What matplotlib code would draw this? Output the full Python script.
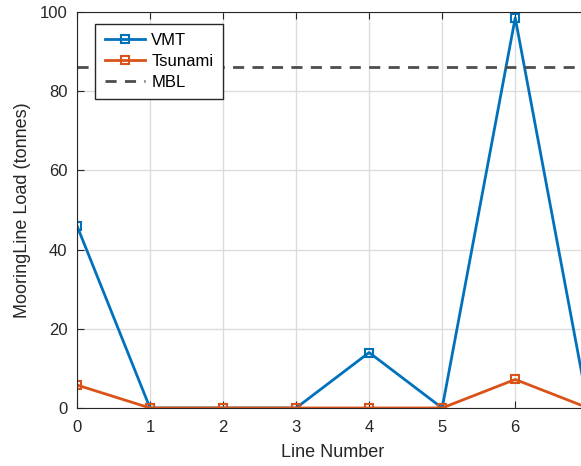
#!/usr/bin/env python3
"""
Mooring line loads per line: VMT vs Tsunami with MBL limit
"""
import matplotlib.pyplot as plt

line_number = [0, 1, 2, 3, 4, 5, 6, 7]
vmt_load = [46, 0, 0, 0, 14, 0, 98.5, 0]
tsunami_load = [5.8, 0, 0, 0, 0, 0, 7.2, 0]
mbl = 86

plt.rcParams['font.family'] = ['Liberation Sans', 'DejaVu Sans']

fig = plt.figure(figsize=(5.81, 4.66), dpi=100)
ax = fig.add_axes([0.1325, 0.1245, 0.88, 0.85])

ax.plot(line_number, vmt_load, color='#0072BD', lw=2, marker='s',
        ms=6, mfc='none', mew=1.5, label='VMT')
ax.plot(line_number, tsunami_load, color='#D95319', lw=2, marker='s',
        ms=6, mfc='none', mew=1.5, label='Tsunami')
ax.axhline(mbl, color='#4d4d4d', lw=2, ls=(0, (4, 3)), label='MBL')

ax.set_xlim(0, 7)
ax.set_ylim(0, 100)
ax.set_xticks(line_number)
ax.set_yticks([0, 20, 40, 60, 80, 100])
ax.grid(True, color='#dcdcdc', lw=1)
ax.set_axisbelow(True)
for s in ax.spines.values():
    s.set_color('#262626')
ax.tick_params(direction='in', colors='#262626', labelsize=12, length=5,
               top=True, right=True)
ax.tick_params(axis='x', pad=9)
ax.tick_params(axis='y', pad=7)
ax.set_xlabel('Line Number', fontsize=13, color='#262626', labelpad=6)
ax.set_ylabel('MooringLine Load (tonnes)', fontsize=13, color='#262626',
              labelpad=6)

leg = ax.legend(loc='upper left', bbox_to_anchor=(0.036, 0.97),
                fontsize=12, fancybox=False, framealpha=1,
                edgecolor='#262626', borderpad=0.55, handlelength=2.4,
                labelspacing=0.35, borderaxespad=0, handletextpad=0.4)
leg.get_frame().set_linewidth(1)

plt.savefig("out.png")
